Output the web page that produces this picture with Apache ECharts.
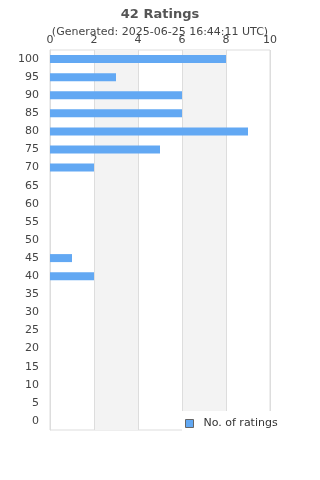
<!DOCTYPE html>
<html>
<head>
<meta charset="utf-8">
<script src="https://cdn.jsdelivr.net/npm/echarts@6/dist/echarts.min.js"></script>
<style>
html, body { margin: 0; padding: 0; background: #fff; }
#chart { width: 320px; height: 480px; }
</style>
</head>
<body>
<div id="chart"></div>
<script>
// rating buckets, bottom to top
var categories = ['0','5','10','15','20','25','30','35','40','45','50','55','60','65','70','75','80','85','90','95','100'];
var counts = [0,0,0,0,0,0,0,0,2,1,0,0,0,0,2,5,9,6,6,3,8];
var xTicks = [0, 10, 2];

var myChart = echarts.init(document.getElementById('chart'));
var option = {
	animation: false,
	title: {
		text: '42 Ratings',
		subtext: '(Generated: 2025-06-25 16:44:11 UTC)',
		left: 'center',
		top: 3,
		itemGap: 6,
		textStyle: { fontSize: 13, fontWeight: 'bold', color: '#555', fontFamily: 'DejaVu Sans' },
		subtextStyle: { fontSize: 11, color: '#444', fontFamily: 'DejaVu Sans' }
	},
	legend: {
		data: ['No. of ratings'],
		left: 182,
		top: 411,
		backgroundColor: '#fff',
		padding: [7, 10, 6, 3],
		itemWidth: 8,
		itemHeight: 8,
		icon: 'rect',
		itemStyle: { borderColor: '#666', borderWidth: 1 },
		textStyle: { fontSize: 11, color: '#333', fontFamily: 'DejaVu Sans', padding: [0, 0, 0, 5] }
	},
	grid: {
		left: 50, right: 50, top: 50, bottom: 50,
		show: true, borderColor: '#ddd', borderWidth: 1
	},
	xAxis: {
		type: 'value',
		position: 'top',
		min: xTicks[0], max: xTicks[1], interval: xTicks[2],
		axisLine: { show: false },
		axisTick: { show: false },
		axisLabel: { fontSize: 11, color: '#444', margin: 4, fontFamily: 'DejaVu Sans' },
		splitLine: { lineStyle: { color: '#ddd' } },
		splitArea: { show: true, areaStyle: { color: ['rgba(255,255,255,0)', '#f3f3f3'] } }
	},
	yAxis: {
		type: 'category',
		data: categories,
		axisLine: { lineStyle: { color: '#ddd' } },
		axisTick: { show: false },
		axisLabel: { fontSize: 11, color: '#444', margin: 11, fontFamily: 'DejaVu Sans' }
	},
	series: [{
		name: 'No. of ratings',
		type: 'bar',
		data: counts,
		barWidth: 8,
		itemStyle: { color: '#62a8f3' },
		legendHoverLink: false
	}]
};
myChart.setOption(option);
</script>
</body>
</html>
